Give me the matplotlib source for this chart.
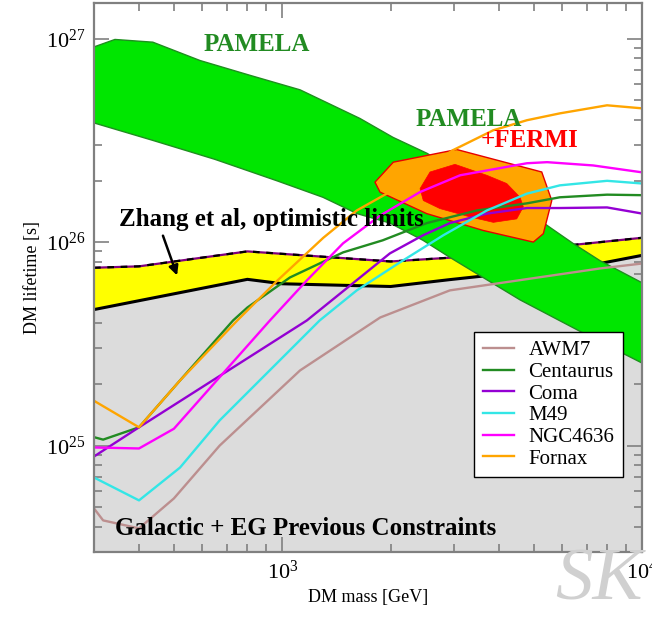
import numpy as np
import matplotlib
matplotlib.use("Agg")
import matplotlib.pyplot as plt
from matplotlib.ticker import NullFormatter

plt.rcParams['font.family'] = 'Liberation Serif'
plt.rcParams['mathtext.fontset'] = 'custom'
plt.rcParams['mathtext.rm'] = 'Liberation Serif'
plt.rcParams['mathtext.it'] = 'Liberation Serif:italic'
plt.rcParams['mathtext.bf'] = 'Liberation Serif:bold'

# all masses in GeV, lifetimes in s
pamela_up_m = [300, 343, 437, 591, 813, 1120, 1643, 2030, 2523, 3540, 4570, 5540, 6420, 7630, 10000]
pamela_up_t = [9.1e26, 9.9e26, 9.6e26, 7.8e26, 6.6e26, 5.6e26, 4.05e26, 3.27e26, 2.73e26,
               1.9e26, 1.5e26, 1.18e26, 9.85e25, 8.1e25, 6.3e25]
pamela_lo_m = [300, 437, 650, 967, 1297, 1613, 1991, 2460, 2924, 4575, 6800, 8830, 10000]
pamela_lo_t = [3.85e26, 3.16e26, 2.55e26, 2.0e26, 1.66e26, 1.38e26, 1.24e26, 1.02e26,
               8.4e25, 5.2e25, 3.6e25, 2.84e25, 2.54e25]

# PAMELA+FERMI contours
fermi_outer_m = [1809, 2034, 3051, 5255, 5603, 5309, 4980, 3617, 2518, 1868]
fermi_outer_t = [1.97e26, 2.47e26, 2.85e26, 2.21e26, 1.60e26, 1.10e26, 1.0e26, 1.14e26, 1.38e26, 1.76e26]
fermi_inner_m = [2413, 2572, 3017, 3697, 4201, 4575, 4671, 4478, 3856, 3322, 2742, 2464]
fermi_inner_t = [1.83e26, 2.21e26, 2.41e26, 2.13e26, 1.94e26, 1.66e26, 1.49e26, 1.30e26,
                 1.25e26, 1.33e26, 1.46e26, 1.60e26]

# Galactic + EG previous constraints (lower edge of yellow band)
galeg_m = [300, 800, 1000, 2000, 2920, 7630, 10000]
galeg_t = [4.66e25, 6.56e25, 6.24e25, 6.05e25, 6.54e25, 7.85e25, 8.61e25]
# Zhang et al optimistic limits (upper edge)
zhang_m = [300, 400, 800, 2000, 2920, 10000]
zhang_t = [7.48e25, 7.60e25, 9.0e25, 8.03e25, 8.38e25, 1.05e26]

# cluster limits
awm7_m = [300, 318, 400, 500, 670, 1120, 1870, 2920, 7630, 10000]
awm7_t = [4.91e24, 4.29e24, 3.92e24, 5.50e24, 1.0e25, 2.34e25, 4.26e25, 5.79e25, 7.42e25, 7.85e25]
centaurus_m = [300, 318, 400, 520, 730, 800, 1050, 1475, 1900, 2520, 3470, 4780, 5900, 7980, 10000]
centaurus_t = [1.10e25, 1.07e25, 1.23e25, 2.09e25, 4.12e25, 4.77e25, 6.70e25, 8.90e25, 1.02e26,
               1.24e26, 1.43e26, 1.55e26, 1.66e26, 1.71e26, 1.70e26]
coma_m = [300, 400, 1170, 1990, 2460, 2920, 3700, 4780, 5900, 7980, 10000]
coma_t = [8.84e24, 1.23e25, 4.12e25, 8.80e25, 1.08e26, 1.24e26, 1.38e26, 1.47e26, 1.47e26, 1.48e26, 1.38e26]
m49_m = [300, 400, 520, 670, 1270, 1610, 2120, 2800, 3700, 4780, 5900, 7980, 10000]
m49_t = [6.97e24, 5.38e24, 7.80e24, 1.33e25, 4.12e25, 5.79e25, 7.94e25, 1.08e26, 1.43e26,
         1.73e26, 1.90e26, 2.00e26, 1.94e26]
ngc4636_m = [300, 400, 500, 924, 1170, 1475, 1870, 2410, 3120, 4780, 5440, 7300, 10000]
ngc4636_t = [9.79e24, 9.68e24, 1.21e25, 4.12e25, 6.48e25, 9.86e25, 1.35e26, 1.76e26, 2.13e26,
             2.44e26, 2.47e26, 2.38e26, 2.20e26]
fornax_m = [300, 400, 520, 750, 970, 1300, 1610, 2030, 2980, 3850, 4780, 5900, 7980, 10000]
fornax_t = [1.66e25, 1.23e25, 2.09e25, 4.12e25, 6.48e25, 1.05e26, 1.43e26, 1.80e26, 2.83e26,
            3.54e26, 3.97e26, 4.29e26, 4.70e26, 4.54e26]

clusters = [("AWM7", awm7_m, awm7_t, "#bc8f8f"),
            ("Centaurus", centaurus_m, centaurus_t, "#228b22"),
            ("Coma", coma_m, coma_t, "#9400d3"),
            ("M49", m49_m, m49_t, "#33e6e6"),
            ("NGC4636", ngc4636_m, ngc4636_t, "#ff00ff"),
            ("Fornax", fornax_m, fornax_t, "#ffa500")]

xmin, xmax = 300, 1e4
ymin, ymax = 3e24, 1.5e27

fig = plt.figure(figsize=(6.52, 6.21), dpi=100)
ax = fig.add_axes([0.1442, 0.1111, 0.8410, 0.8845])
ax.set_xscale('log')
ax.set_yscale('log')

# grey region below previous constraints
ax.fill_between(galeg_m, galeg_t, ymin, color='#dcdcdc', lw=0, zorder=1)
# yellow band
ax.fill(np.r_[galeg_m, zhang_m[::-1]], np.r_[galeg_t, zhang_t[::-1]],
        color='#ffff00', lw=0, zorder=2)
ax.plot(galeg_m, galeg_t, color='black', lw=2.2, zorder=3)
ax.plot(zhang_m, zhang_t, color='#800080', lw=1.6, zorder=3)
ax.plot(zhang_m, zhang_t, color='black', lw=1.6, ls=(0, (3, 3)), zorder=3)

# PAMELA band
ax.fill(np.r_[pamela_up_m, pamela_lo_m[::-1]], np.r_[pamela_up_t, pamela_lo_t[::-1]],
        facecolor='#00e600', edgecolor='#1f8f1f', lw=1.0, zorder=4)

# PAMELA + FERMI
ax.fill(fermi_outer_m, fermi_outer_t, facecolor='#ffa500', edgecolor='#e60000', lw=1.0, zorder=5)
ax.fill(fermi_inner_m, fermi_inner_t, facecolor='#ff0000', edgecolor='#ff0000', lw=0.5, zorder=6)

for name, m, t, c in clusters:
    ax.plot(m, t, color=c, lw=1.7, label=name, zorder=7)

ax.set_xlim(xmin, xmax)
ax.set_ylim(ymin, ymax)

for s in ax.spines.values():
    s.set_color('#808080')
    s.set_linewidth(1.6)
    s.set_zorder(10)
ax.tick_params(which='both', direction='in', top=True, right=True,
               color='#808080', width=1.2, labelsize=16, pad=6)
ax.tick_params(which='major', length=11)
ax.tick_params(which='minor', length=5.5)
ax.xaxis.set_minor_formatter(NullFormatter())
ax.yaxis.set_minor_formatter(NullFormatter())

ax.set_xlabel('DM mass [GeV]', fontsize=13, labelpad=4)
ax.set_ylabel('DM lifetime [s]', fontsize=13, labelpad=4)

bold = dict(fontsize=18, fontweight='bold', transform=ax.transAxes, zorder=9)
ax.text(0.2973, 0.912, 'PAMELA', color='#228b22', ha='center', va='baseline', **bold)
ax.text(0.684, 0.7756, 'PAMELA', color='#228b22', ha='center', va='baseline', **bold)
ax.text(0.7934, 0.7378, '+FERMI', color='#ff0000', ha='center', va='baseline', **bold)
ax.text(0.3237, 0.5935, 'Zhang et al, optimistic limits', color='black',
        ha='center', va='baseline', **bold)
ax.text(0.3866, 0.031, 'Galactic + EG Previous Constraints', color='black',
        ha='center', va='baseline', **bold)
ax.annotate('', xy=(0.1532, 0.4988), xytext=(0.124, 0.5807), xycoords='axes fraction',
            arrowprops=dict(arrowstyle='-|>', color='black', lw=1.8, mutation_scale=14),
            zorder=9)

leg = ax.legend(loc='upper right', bbox_to_anchor=(0.9643, 0.400), borderaxespad=0,
                fontsize=15, labelspacing=0.1, handlelength=1.5, handletextpad=0.7,
                borderpad=0.4, fancybox=False, framealpha=1, edgecolor='black')
leg.get_frame().set_linewidth(1.0)
leg.set_zorder(11)

fig.text(0.851, 0.034, 'SK', fontsize=54, style='italic', color='#d0d0d0',
         family='Liberation Serif')

fig.savefig('out.png', dpi=100)
